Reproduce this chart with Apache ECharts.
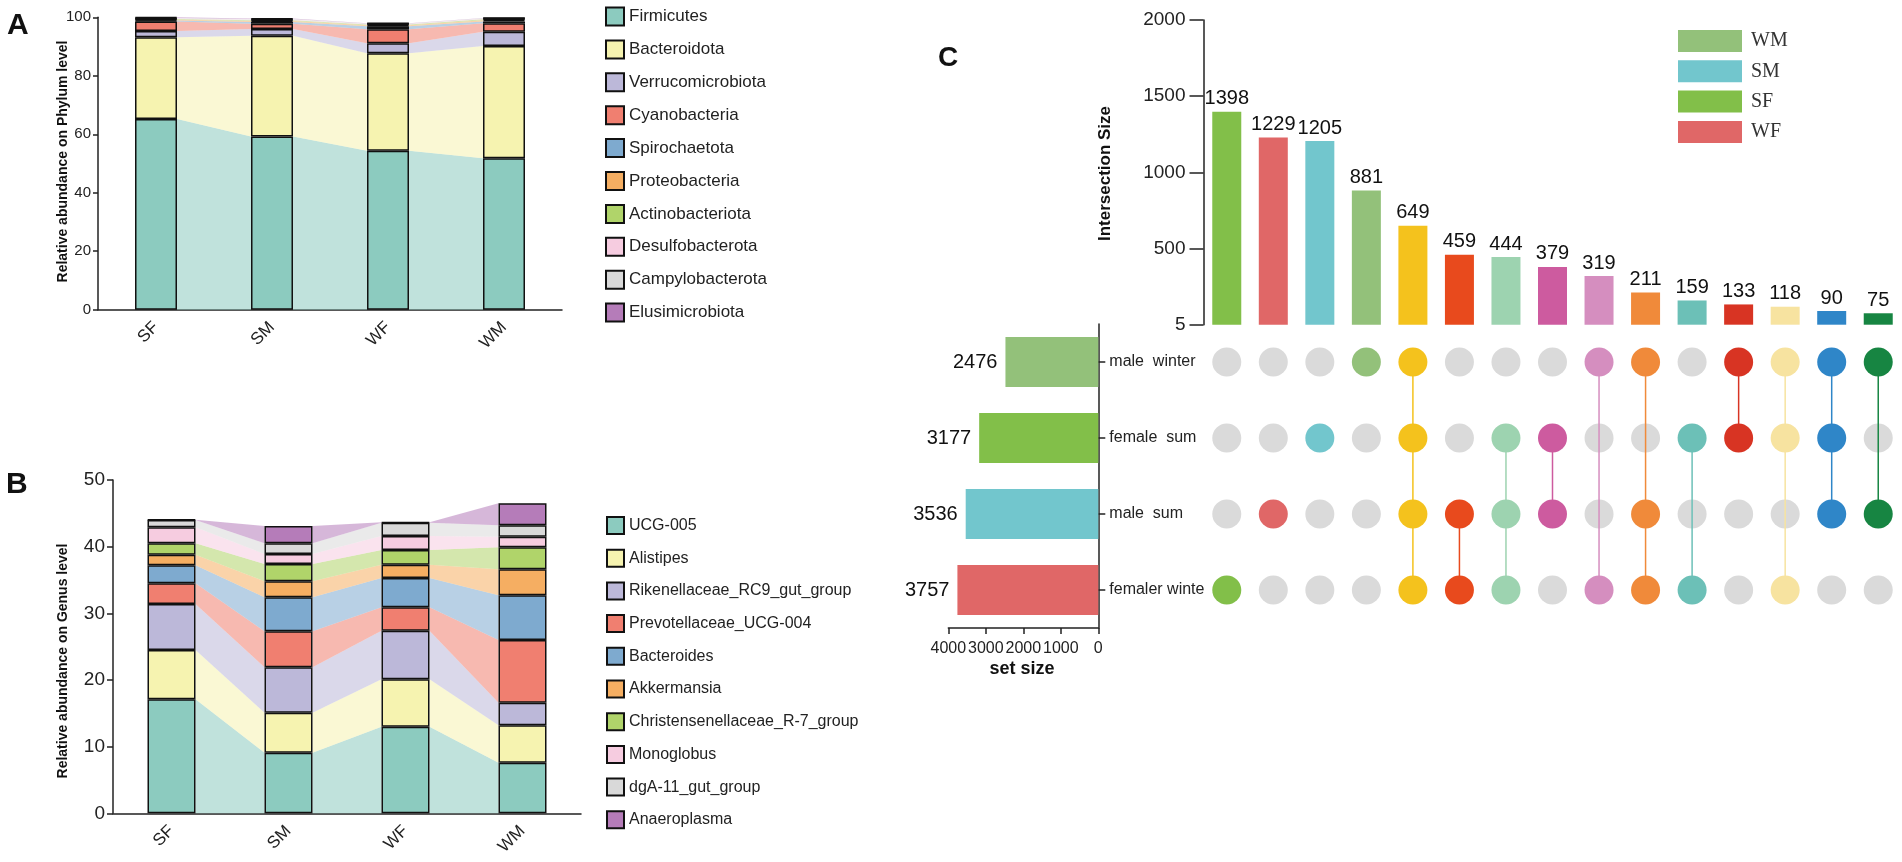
<!DOCTYPE html>
<html><head><meta charset="utf-8">
<script src="https://cdn.jsdelivr.net/npm/echarts@6/dist/echarts.min.js"></script>
<style>html,body{margin:0;padding:0;background:#fff}#c{width:1902px;height:862px}</style>
</head><body><div id="c"></div>
<script>
// ---------- DATA ----------
const samples = ['SF', 'SM', 'WF', 'WM'];

const phylumNames = ['Firmicutes','Bacteroidota','Verrucomicrobiota','Cyanobacteria','Spirochaetota','Proteobacteria','Actinobacteriota','Desulfobacterota','Campylobacterota','Elusimicrobiota'];
const firmicutes        = [65.2, 59.2, 54.4, 51.8];
const bacteroidota      = [28.0, 34.5, 33.3, 38.4];
const verrucomicrobiota = [2.1, 2.3, 3.4, 4.9];
const cyanobacteria     = [3.3, 1.8, 4.8, 2.9];
const spirochaetota     = [0.3, 0.6, 1.0, 0.6];
const proteobacteria    = [0.3, 0.3, 0.4, 0.4];
const actinobacteriota  = [0.2, 0.3, 0.2, 0.3];
const desulfobacterota  = [0.2, 0.2, 0.2, 0.2];
const campylobacterota  = [0.2, 0.2, 0.2, 0.2];
const elusimicrobiota   = [0.2, 0.2, 0.1, 0.1];

const genusNames = ['UCG-005','Alistipes','Rikenellaceae_RC9_gut_group','Prevotellaceae_UCG-004','Bacteroides','Akkermansia','Christensenellaceae_R-7_group','Monoglobus','dgA-11_gut_group','Anaeroplasma'];
const ucg005        = [17.1, 9.1, 13.0, 7.6];
const alistipes     = [7.4, 6.0, 7.1, 5.6];
const rikenellaceae = [6.9, 6.8, 7.3, 3.4];
const prevotellaceae= [3.1, 5.4, 3.5, 9.4];
const bacteroides   = [2.7, 5.1, 4.4, 6.7];
const akkermansia   = [1.6, 2.4, 2.0, 3.9];
const christensen   = [1.7, 2.6, 2.2, 3.3];
const monoglobus    = [2.4, 1.5, 2.1, 1.6];
const dgA11         = [1.1, 1.6, 2.0, 1.7];
const anaeroplasma  = [0.05, 2.6, 0.05, 3.3];

const phylumTicks = [0, 20, 40, 60, 80, 100];
const genusTicks = [0, 10, 20, 30, 40, 50];

const setNames = ['male  winter', 'female  sum', 'male  sum', 'femaler winte'];
const setSizes = [2476, 3177, 3536, 3757];
const setSizeTicks = [0, 1000, 2000, 3000, 4000];
const intersectionNames = ['WF','SM','SF','WM','all','SM&WF','SF&SM&WF','SF&SM','WM&WF','WM&SM&WF','SF&WF','WM&SF','WM&SF&WF','WM&SF&SM','WM&SM'];
const intersectionSizes = [1398, 1229, 1205, 881, 649, 459, 444, 379, 319, 211, 159, 133, 118, 90, 75];
const intersectionSets = [[3],[2],[1],[0],[0,1,2,3],[2,3],[1,2,3],[1,2],[0,3],[0,2,3],[1,3],[0,1],[0,1,3],[0,1,2],[0,2]];
const intersectionTickLabels = ['5', '500', '1000', '1500', '2000'];
const groupLegend = ['WM', 'SM', 'SF', 'WF'];

// ---------- STYLE ----------
const FONT = "'Liberation Sans', Arial, Helvetica, sans-serif";
const SERIF = "'Liberation Serif', 'DejaVu Serif', 'Times New Roman', serif";
const set3 = ['#8ccbbf','#f6f3b0','#bcb8d9','#f07f70','#7eaacf','#f5ae62','#b0d46a','#f6cce0','#d9d9d9','#b57cb9'];
const interColors = ['#82bf49','#e06767','#72c6cd','#93c17a','#f4c21d','#e84a1d','#9dd3b0','#cd5b9f','#d58ebf','#f08a3a','#6cc0b7','#d83423','#f7e3a0','#2f86c8','#178542'];
const setColors = ['#93c17a','#82bf49','#72c6cd','#e06767'];
const groupColors = ['#93c17a','#72c6cd','#82bf49','#e06767'];
const AX = '#222';

const phylumData = [firmicutes,bacteroidota,verrucomicrobiota,cyanobacteria,spirochaetota,proteobacteria,actinobacteriota,desulfobacterota,campylobacterota,elusimicrobiota];
const genusData = [ucg005,alistipes,rikenellaceae,prevotellaceae,bacteroides,akkermansia,christensen,monoglobus,dgA11,anaeroplasma];

function flowSeries(names, data, xi, yi, halfW, prefix) {
  const out = [];
  const n = samples.length;
  const cum = [];
  for (let s = 0; s < data.length; s++) {
    cum.push(data[s].map((v, j) => {
      let low = 0; for (let k = 0; k < s; k++) low += data[k][j];
      return [low, low + v];
    }));
  }
  for (let s = 0; s < data.length; s++) {
    const items = [];
    for (let j = 0; j < n - 1; j++) {
      items.push([j, cum[s][j][0], cum[s][j][1], cum[s][j+1][0], cum[s][j+1][1]]);
    }
    const col = set3[s];
    out.push({
      type: 'custom', name: prefix + names[s], xAxisIndex: xi, yAxisIndex: yi, z: 1, silent: true,
      encode: { x: 0, y: [1, 2, 3, 4] },
      data: items,
      renderItem: function (params, api) {
        const i = api.value(0);
        const a0 = api.coord([i, api.value(1)]), a1 = api.coord([i, api.value(2)]);
        const b0 = api.coord([i + 1, api.value(3)]), b1 = api.coord([i + 1, api.value(4)]);
        return { type: 'polygon', shape: { points: [[a0[0] + halfW, a0[1]], [a1[0] + halfW, a1[1]], [b1[0] - halfW, b1[1]], [b0[0] - halfW, b0[1]]] },
          style: { fill: col, opacity: 0.55 } };
      }
    });
  }
  return out;
}
function barSeries(names, data, xi, yi, bw, stack) {
  return names.map((nm, s) => ({
    type: 'bar', name: nm, stack: stack, xAxisIndex: xi, yAxisIndex: yi, z: 3, barWidth: bw,
    itemStyle: { color: set3[s], borderColor: '#111', borderWidth: 1.5 },
    data: data[s]
  }));
}

const series = [];
series.push(...flowSeries(phylumNames, phylumData, 0, 0, 21, 'flowA_'));
series.push(...barSeries(phylumNames, phylumData, 0, 0, 42, 'A'));
series.push(...flowSeries(genusNames, genusData, 1, 1, 24, 'flowB_'));
series.push(...barSeries(genusNames, genusData, 1, 1, 48, 'B'));

// intersection bars
series.push({
  type: 'bar', name: 'intersection', xAxisIndex: 2, yAxisIndex: 2, barWidth: 29,
  data: intersectionSizes.map((v, i) => ({ value: v, itemStyle: { color: interColors[i] } })),
  label: { show: true, position: 'top', distance: 3, fontSize: 20, color: '#111', fontFamily: FONT }
});
// group legend dummies
groupLegend.forEach((g, i) => series.push({ type: 'scatter', name: g, xAxisIndex: 2, yAxisIndex: 2, data: [], itemStyle: { color: groupColors[i], opacity: 1 } }));

// matrix
const grayDots = [], colorDots = [], links = [];
intersectionSets.forEach((sets, c) => {
  for (let r = 0; r < setNames.length; r++) {
    if (sets.indexOf(r) < 0) grayDots.push([c, r]);
    else colorDots.push({ value: [c, r], itemStyle: { color: interColors[c], opacity: 1 } });
  }
  if (sets.length > 1) links.push([c, Math.min(...sets), Math.max(...sets)]);
});
series.push({ type: 'scatter', name: 'gray', xAxisIndex: 3, yAxisIndex: 3, symbolSize: 29, z: 1, silent: true, itemStyle: { color: '#dadada', opacity: 1 }, data: grayDots });
series.push({
  type: 'custom', name: 'links', xAxisIndex: 3, yAxisIndex: 3, z: 2, silent: true, encode: { x: 0, y: [1, 2] }, data: links,
  renderItem: function (params, api) {
    const c = api.value(0);
    const p0 = api.coord([c, api.value(1)]), p1 = api.coord([c, api.value(2)]);
    return { type: 'line', shape: { x1: p0[0], y1: p0[1], x2: p1[0], y2: p1[1] }, style: { stroke: interColors[c], lineWidth: 1.5 } };
  }
});
series.push({ type: 'scatter', name: 'dots', xAxisIndex: 3, yAxisIndex: 3, symbolSize: 29, z: 3, silent: true, itemStyle: { opacity: 1 }, data: colorDots });

// set size bars
series.push({
  type: 'bar', name: 'setsize', xAxisIndex: 4, yAxisIndex: 4, barWidth: 50,
  data: setSizes.map((v, i) => ({ value: v, itemStyle: { color: setColors[i] } })),
  label: { show: true, position: 'left', distance: 8, fontSize: 20, color: '#111', fontFamily: FONT }
});

const noOB = { outerBoundsMode: 'none', containLabel: false };
const option = {
  animation: false,
  backgroundColor: '#fff',
  textStyle: { fontFamily: FONT },
  grid: [
    Object.assign({ left: 98, top: 17.3, width: 464, height: 292.4 }, noOB),
    Object.assign({ left: 113, top: 480, width: 468, height: 333.3 }, noOB),
    Object.assign({ left: 1203.5, top: 20, width: 698, height: 304.7 }, noOB),
    Object.assign({ left: 1203.5, top: 324, width: 698, height: 304 }, noOB),
    Object.assign({ left: 948.3, top: 324, width: 150, height: 304 }, noOB)
  ],
  xAxis: [
    { type: 'category', gridIndex: 0, data: samples, axisLine: { lineStyle: { color: AX, width: 1.5 } },
      axisTick: { alignWithLabel: true, length: 5, lineStyle: { color: AX, width: 1.5 } },
      axisLabel: { rotate: 45, fontSize: 17, color: AX, margin: 15 } },
    { type: 'category', gridIndex: 1, data: samples, axisLine: { lineStyle: { color: AX, width: 1.5 } },
      axisTick: { alignWithLabel: true, length: 5, lineStyle: { color: AX, width: 1.5 } },
      axisLabel: { rotate: 45, fontSize: 17, color: AX, margin: 15 } },
    { type: 'category', gridIndex: 2, data: intersectionNames, show: false },
    { type: 'category', gridIndex: 3, data: intersectionNames, show: false },
    { type: 'value', gridIndex: 4, inverse: true, min: setSizeTicks[0], max: setSizeTicks[setSizeTicks.length - 1], interval: setSizeTicks[1] - setSizeTicks[0],
      splitLine: { show: false }, axisLine: { show: true, lineStyle: { color: AX, width: 1.5 } },
      axisTick: { show: true, length: 6, lineStyle: { color: AX, width: 1.5 } },
      axisLabel: { fontSize: 16, color: AX, margin: 13, showMinLabel: true, showMaxLabel: true, hideOverlap: false, formatter: v => String(v) } }
  ],
  yAxis: [
    { type: 'value', gridIndex: 0, min: phylumTicks[0], max: phylumTicks[phylumTicks.length - 1], interval: phylumTicks[1] - phylumTicks[0],
      splitLine: { show: false }, axisLine: { show: true, lineStyle: { color: AX, width: 1.5 } },
      axisTick: { show: true, length: 5, lineStyle: { color: AX, width: 1.5 } },
      axisLabel: { fontSize: 15, color: AX, margin: 7 } },
    { type: 'value', gridIndex: 1, min: genusTicks[0], max: genusTicks[genusTicks.length - 1], interval: genusTicks[1] - genusTicks[0],
      splitLine: { show: false }, axisLine: { show: true, lineStyle: { color: AX, width: 1.5 } },
      axisTick: { show: true, length: 6, lineStyle: { color: AX, width: 1.5 } },
      axisLabel: { fontSize: 19, color: AX, margin: 8 } },
    { type: 'value', gridIndex: 2, min: 0, max: 2000, interval: 500,
      splitLine: { show: false }, axisLine: { show: true, lineStyle: { color: AX, width: 1.5 } },
      axisTick: { show: true, length: 14, lineStyle: { color: AX, width: 1.5 } },
      axisLabel: { fontSize: 19, color: AX, margin: 18, formatter: (v, i) => intersectionTickLabels[i] } },
    { type: 'category', gridIndex: 3, data: setNames, inverse: true, show: false },
    { type: 'category', gridIndex: 4, data: setNames, inverse: true, position: 'right',
      axisLine: { show: true, lineStyle: { color: AX, width: 1.5 } },
      axisTick: { show: true, alignWithLabel: true, length: 7, lineStyle: { color: AX, width: 1.5 } },
      axisLabel: { fontSize: 16, color: AX, margin: 11 } }
  ],
  legend: [
    { orient: 'vertical', left: 605, top: 6.5, padding: 0, itemWidth: 18, itemHeight: 18, itemGap: 12.9, icon: 'rect',
      data: phylumNames, textStyle: { fontSize: 17, color: AX, fontFamily: FONT }, selectedMode: false },
    { orient: 'vertical', left: 606, top: 516, padding: 0, itemWidth: 17, itemHeight: 17, itemGap: 13.7, icon: 'rect',
      data: genusNames, textStyle: { fontSize: 16, color: AX, fontFamily: FONT }, selectedMode: false },
    { orient: 'vertical', left: 1678, top: 30, padding: 0, itemWidth: 64, itemHeight: 22, itemGap: 8.3, icon: 'rect',
      data: groupLegend, textStyle: { fontSize: 20, color: '#333', fontFamily: SERIF, padding: [0, 0, 0, 4] }, selectedMode: false }
  ],
  graphic: [
    { type: 'text', left: 7, top: 11, style: { text: 'A', font: 'bold 30px ' + FONT, fill: '#111' } },
    { type: 'text', left: 6, top: 470, style: { text: 'B', font: 'bold 30px ' + FONT, fill: '#111' } },
    { type: 'text', left: 938, top: 44, style: { text: 'C', font: 'bold 28px ' + FONT, fill: '#111' } },
    { type: 'text', x: 63, y: 161.5, rotation: Math.PI / 2, style: { text: 'Relative abundance on Phylum level', font: 'bold 14px ' + FONT, fill: '#111', align: 'center', verticalAlign: 'middle' } },
    { type: 'text', x: 63, y: 661, rotation: Math.PI / 2, style: { text: 'Relative abundance on Genus level', font: 'bold 14px ' + FONT, fill: '#111', align: 'center', verticalAlign: 'middle' } },
    { type: 'text', x: 1105, y: 173.5, rotation: Math.PI / 2, style: { text: 'Intersection Size', font: 'bold 17px ' + FONT, fill: '#111', align: 'center', verticalAlign: 'middle' } },
    { type: 'text', x: 1022, y: 669, style: { text: 'set size', font: 'bold 18px ' + FONT, fill: '#111', align: 'center', verticalAlign: 'middle' } }
  ],
  series: series
};
const chart = echarts.init(document.getElementById('c'), null, { renderer: 'canvas' });
chart.setOption(option);
</script></body></html>
